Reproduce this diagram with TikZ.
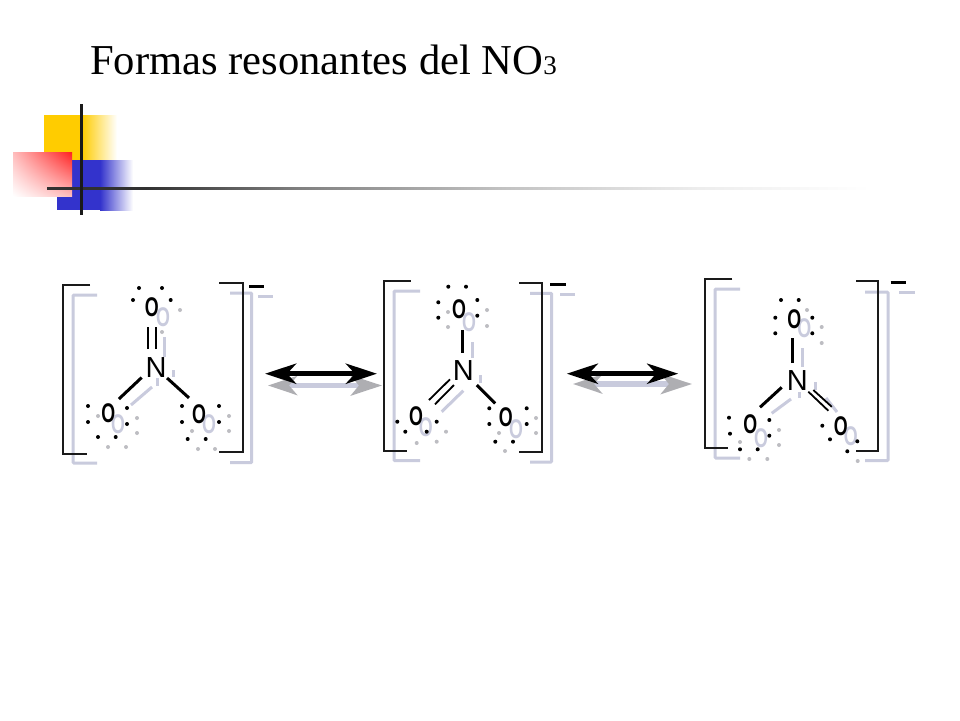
\documentclass[tikz,border=0pt]{standalone}
\usepackage{fontspec}
\setmainfont{Liberation Serif}
\newfontfamily\atomfont{Liberation Sans}
\usetikzlibrary{arrows.meta,shadings}
\definecolor{logoyellow}{HTML}{FFCC00}
\definecolor{logoblue}{HTML}{3333CC}
\definecolor{logored}{HTML}{FF2020}
\definecolor{ink}{HTML}{1A1A1A}
\definecolor{shade1}{HTML}{C9CBDD}
\definecolor{shade2}{HTML}{BDBDC2}
\pgfdeclarehorizontalshading{rulefade}{100bp}{color(0bp)=(ink!90!white); color(31bp)=(ink!90!white); color(40.4bp)=(ink!55!white); color(52.5bp)=(ink!27!white); color(64.5bp)=(ink!8!white); color(75bp)=(white); color(100bp)=(white)}
\tikzset{
  atom/.style={inner sep=0pt,text=black,font=\atomfont\bfseries\fontsize{27}{27}\selectfont},
  natom/.style={inner sep=0pt,text=black,font=\atomfont\fontsize{29}{29}\selectfont},
  satom/.style={inner sep=0pt,text=shade1,font=\atomfont\bfseries\fontsize{27}{27}\selectfont},
  bond/.style={draw=black,line width=3pt},
  thinbond/.style={draw=black,line width=1.8pt},
  sbond/.style={draw=shade1,line width=3pt},
  brk/.style={draw=ink,line width=2pt},
  sbrk/.style={draw=shade1,line width=3pt,rounded corners=1pt},
  minus/.style={draw=black,line width=3pt},
  sminus/.style={draw=shade1,line width=3pt},
  arr/.style={line width=5.5pt,draw=black,{Stealth[length=31pt,width=20pt,inset=9pt]}-{Stealth[length=31pt,width=20pt,inset=9pt]}},
  sarr/.style={line width=5.5pt,draw=shade1,{Stealth[length=29pt,width=19pt,inset=8pt,color=shade2!92!black]}-{Stealth[length=31pt,width=20pt,inset=8pt,color=shade2!92!black]}}
}
\newcommand{\Odot}[1]{\scalebox{0.66}[1]{#1}}
\newcommand{\blackdots}[1]{\foreach \p in {#1} \fill[black] \p circle (2);}
\newcommand{\greydots}[1]{\foreach \p in {#1} \fill[shade2] \p circle (2);}
\begin{document}
\begin{tikzpicture}[x=1pt,y=-1pt]
\useasboundingbox (0,0) rectangle (960,720);
\fill[white] (0,0) rectangle (960,720);
% title
\node[anchor=base west,inner sep=0pt,font=\fontsize{42.6}{44}\selectfont] (title) at (90,74) {Formas resonantes del NO{\fontsize{27}{27}\selectfont 3}};
% logo
\fill[logoyellow] (44,115) rectangle (82,160);
\shade[left color=logoyellow,right color=white] (82,115) rectangle (117,160);
\fill[logoblue] (57,160) rectangle (100,210);
\shade[left color=logoblue,right color=white] (100,160) rectangle (133,210);
\shade[upper right=logored,upper left=logored!30!white,lower right=logored!30!white,lower left=white] (13,152) rectangle (72,196);
\shade[shading=rulefade] (47,187) rectangle (870,189.6);
\fill[ink] (80,104) rectangle (82.6,215);
% --- shadows, molecule 1
\draw[sbrk] (97,295) -- (73,295) -- (73,463) -- (97,463);
\draw[sbrk] (230,293) -- (251.7,293) -- (251.7,462.7) -- (230,462.7);
\draw[sminus] (258,296) -- (273,296);
\node[satom] (so1a) at (163,317) {\Odot{O}};
\node[satom] (so1b) at (118,424) {\Odot{O}};
\node[satom] (so1c) at (209,424) {\Odot{O}};
\draw[sbond] (164,337) -- (164,357);
\draw[sbond] (131,405) -- (152,387);
\draw[sbond] (157,378) -- (157,386);
\draw[sbond] (173,370) -- (173,377);
\greydots{(180,310),(162,332),(98,416),(137,418),(137,433),(108,447),(126,447),(192,431),(229,416),(229,431),(198,449),(215,449)}
% --- shadows, molecule 2
\draw[sbrk] (420,291) -- (394,291) -- (394,460.7) -- (420,460.7);
\draw[sbrk] (530,293.3) -- (551.7,293.3) -- (551.7,462) -- (530,462);
\draw[sminus] (560,294) -- (575,294);
\node[satom] (so2a) at (469,322.7) {\Odot{O}};
\node[satom] (so2b) at (425.7,426.7) {\Odot{O}};
\node[satom] (so2c) at (516,429.3) {\Odot{O}};
\draw[sbond] (472,342) -- (472,358);
\draw[sbond] (441.7,411.7) -- (463.3,390.7);
\draw[sbond] (480,375) -- (480,383);
\greydots{(448,312),(448,327),(487,310),(487,326),(416.7,443),(436.7,441.7),(446,431.7),(499,433),(536,418),(536,433),(505,451)}
% --- shadows, molecule 3
\draw[sbrk] (740,289) -- (715,289) -- (715,458) -- (740,458);
\draw[sbrk] (865,292) -- (888,292) -- (888,460.7) -- (865,460.7);
\draw[sminus] (899,292) -- (915,292);
\node[satom] (so3a) at (804.3,328.3) {\Odot{O}};
\node[satom] (so3b) at (761,438.3) {\Odot{O}};
\node[satom] (so3c) at (850.7,436) {\Odot{O}};
\draw[sbond] (802.7,348) -- (802.7,367);
\draw[sbond] (771.7,413.3) -- (791,399);
\draw[sbond] (815,382) -- (815,390);
\draw[sbond] (799,392) -- (799,398);
\draw[sbond] (826,398) -- (837,412);
\greydots{(821.7,327),(821.7,343),(807,310),(740,442),(779,430),(779,445),(749.3,459),(767.3,459),(857.7,461)}
% --- arrows
\coordinate (sa1l) at (268,385.5); \coordinate (sa1r) at (382,385.5);
\coordinate (sa2l) at (573,384);   \coordinate (sa2r) at (692,384);
\draw[sarr] (sa1l) -- (sa1r);
\draw[sarr] (sa2l) -- (sa2r);
\coordinate (a1l) at (265,373.7); \coordinate (a1r) at (377,373.7);
\coordinate (a2l) at (566.7,373.7); \coordinate (a2r) at (678.3,373.7);
\draw[arr] (a1l) -- (a1r);
\draw[arr] (a2l) -- (a2r);
% --- molecule 1
\draw[brk] (90,285) -- (63.3,285) -- (63.3,454) -- (87,454);
\draw[brk] (219,283) -- (242.7,283) -- (242.7,452) -- (219,452);
\draw[minus] (249,286) -- (264,286);
\node[natom] (n1) at (156,368) {N};
\node[atom] (o1a) at (151.7,307.3) {\Odot{O}};
\node[atom] (o1b) at (108.3,413) {\Odot{O}};
\node[atom] (o1c) at (199,414) {\Odot{O}};
\draw[thinbond,shorten <=19pt,shorten >=19.7pt] ([xshift=-7.7pt]n1.center) -- ([xshift=-3.4pt]o1a.center);
\draw[thinbond,shorten <=19pt,shorten >=19.7pt] (n1.center) -- ([xshift=4.3pt]o1a.center);
\draw[bond,shorten <=19.7pt,shorten >=14.6pt] ([yshift=4pt]n1.center) -- ([yshift=4pt]o1b.center);
\draw[bond,shorten <=14.9pt,shorten >=13.5pt] (n1.center) -- ([yshift=7pt]o1c.center);
\blackdots{(139,288),(162,288),(133,300),(170.7,300),(88,406),(88,422),(127,408),(127,424),(98,437),(115.7,437),(182,406),(182,422),(219,406),(219,422),(187.7,439),(205.7,439)}
% --- molecule 2
\draw[brk] (410.7,281) -- (384.3,281) -- (384.3,450.7) -- (407,450.7);
\draw[brk] (519.3,283) -- (541.7,283) -- (541.7,452) -- (519.3,452);
\draw[minus] (550,284.3) -- (565.7,284.3);
\node[natom] (n2) at (463.3,371) {N};
\node[atom] (o2a) at (459,309.3) {\Odot{O}};
\node[atom] (o2b) at (416,415.7) {\Odot{O}};
\node[atom] (o2c) at (505.7,417) {\Odot{O}};
\draw[bond,shorten <=18.3pt,shorten >=20.7pt] ([xshift=-1.3pt]n2.center) -- ([xshift=3pt]o2a.center);
\draw[thinbond,shorten <=18.7pt,shorten >=18.2pt] ([yshift=4.8pt]n2.center) -- ([yshift=2.9pt]o2b.center);
\draw[thinbond,shorten <=13.3pt,shorten >=27pt] ([yshift=-4.5pt]n2.center) -- ([yshift=-7.9pt]o2b.center);
\draw[bond,shorten <=19pt,shorten >=15pt] ([yshift=-0.6pt]n2.center) -- ([yshift=3pt]o2c.center);
\blackdots{(448.3,286.7),(466,286.7),(438.3,302.3),(438.3,317.7),(477.3,300),(477.3,315.7),(397.3,421.7),(405.3,431.7),(436.7,421.7),(426.7,431.7),(489.3,408.3),(489.3,424),(526.7,408.3),(526.7,424),(495.3,441.7),(513,441.7)}
% --- molecule 3
\draw[brk] (732.3,279.3) -- (705.3,279.3) -- (705.3,448.3) -- (728,448.3);
\draw[brk] (856,281) -- (878.3,281) -- (878.3,450.7) -- (856,450.7);
\draw[minus] (890.7,282.3) -- (906,282.3);
\node[natom] (n3) at (797.3,380.7) {N};
\node[atom] (o3a) at (794.3,319.3) {\Odot{O}};
\node[atom] (o3b) at (750.3,424.3) {\Odot{O}};
\node[atom] (o3c) at (840.7,426) {\Odot{O}};
\draw[bond,shorten <=17.7pt,shorten >=18.7pt] ([xshift=-4.6pt]n3.center) -- ([xshift=-1.6pt]o3a.center);
\draw[bond,shorten <=21.2pt,shorten >=13.2pt] ([yshift=7.7pt]n3.center) -- ([yshift=8.1pt]o3b.center);
\draw[thinbond,shorten <=15.2pt,shorten >=17pt] ([yshift=-0.5pt]n3.center) -- ([yshift=3.5pt]o3c.center);
\draw[thinbond,shorten <=21.6pt,shorten >=12pt] ([yshift=5.2pt]n3.center) -- ([yshift=11.1pt]o3c.center);
\blackdots{(781,300),(798.7,300),(775.3,317.7),(775.3,333.3),(812.3,317.7),(812.3,333.3),(729,417.7),(730,433.7),(769.3,420),(769.3,435.7),(740,449.3),(757.7,449.3),(822.3,425.7),(830,439.3),(857.3,441.3),(847.3,451.3)}
\end{tikzpicture}
\end{document}
